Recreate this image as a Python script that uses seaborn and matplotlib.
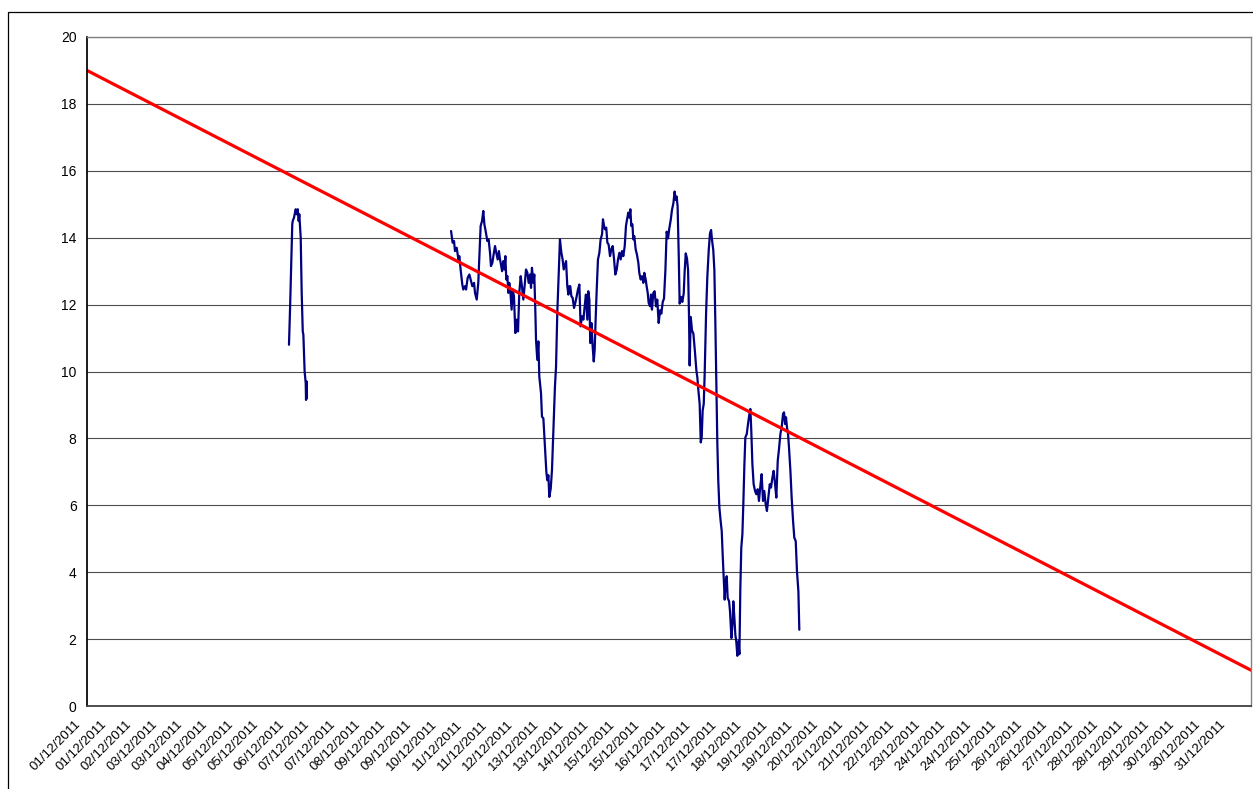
import numpy as np
import pandas as pd
import seaborn as sns
import matplotlib.pyplot as plt
from matplotlib.patches import Rectangle
from matplotlib.transforms import ScaledTranslation

# x values are hours since 01/12/2011 00:00
seg1_hours = [129.1, 129.8, 131.2, 131.5, 132.3, 133.4, 134.0, 134.7, 135.3, 135.7,
              136.6, 137.2, 137.9, 138.3, 139.1, 139.8, 140.0, 140.4, 140.6]
seg1_values = [10.8, 11.9, 14.4, 14.5, 14.6, 14.85, 14.7, 14.85, 14.5, 14.7,
               14.0, 12.4, 11.2, 11.1, 10.0, 9.65, 9.15, 9.7, 9.2]

seg2_hours = [
    232.7, 233.7, 234.6, 235.2, 236.3, 237.4, 238.0, 238.8, 239.9, 240.5,
    241.6, 242.3, 243.3, 244.4, 245.2, 246.3, 247.4, 248.0, 249.1, 250.1,
    250.8, 251.6, 252.5, 253.3, 254.0, 254.8, 255.9, 256.7, 257.6, 258.2,
    259.1, 259.9, 260.8, 261.6, 262.5, 263.3, 264.0, 264.6, 265.3, 266.1,
    266.8, 267.4, 268.0, 268.7, 269.3, 269.9, 270.6, 271.4, 272.1, 272.9,
    273.8, 274.6, 275.5, 276.3, 277.2, 278.0, 278.9, 279.8, 280.6, 281.5,
    282.3, 283.2, 283.8, 284.4, 285.3, 285.9, 286.6, 287.0, 287.8, 288.5,
    289.1, 290.2, 290.8, 291.7, 292.7, 293.6, 294.2, 294.9, 295.5, 296.4,
    297.2, 298.1, 299.1, 299.8, 300.6, 301.5, 302.3, 303.2, 304.0, 304.7,
    305.3, 306.2, 307.0, 307.7, 308.3, 308.9, 309.6, 310.4, 311.3, 312.1,
    313.0, 313.8, 314.7, 315.5, 316.4, 317.3, 318.1, 318.9, 319.8, 320.4,
    321.1, 321.7, 322.4, 323.2, 323.9, 324.5, 325.1, 325.8, 326.6, 327.5,
    328.3, 329.2, 329.8, 330.5, 331.1, 331.9, 332.6, 333.4, 334.3, 335.1,
    336.0, 336.9, 337.7, 338.6, 339.4, 340.3, 341.1, 342.0, 342.8, 343.7,
    344.5, 345.2, 346.0, 346.7, 347.3, 347.9, 348.6, 349.2, 349.8, 350.7,
    351.5, 352.4, 353.0, 353.9, 354.7, 355.6, 356.2, 357.1, 357.7, 358.4,
    359.0, 359.9, 360.5, 361.1, 362.0, 362.8, 363.7, 364.5, 365.4, 366.3,
    367.1, 368.0, 368.8, 369.7, 370.5, 371.4, 372.2, 373.1, 373.9, 374.8,
    375.6, 376.3, 376.9, 377.5, 378.2, 378.8, 379.7, 380.5, 381.4, 382.0,
    382.7, 383.5, 384.2, 384.8, 385.2, 385.9, 386.7, 387.6, 388.6, 389.5,
    390.1, 390.8, 391.6, 392.3, 392.9, 393.5, 394.2, 394.8, 395.7, 396.5,
    397.4, 398.2, 398.9, 399.5, 400.3, 401.0, 401.6, 402.3, 402.9, 403.5,
    404.2, 405.0, 405.7, 406.3, 407.0, 407.6, 408.2, 408.9, 409.5, 410.4,
    411.0, 411.9, 412.7, 413.1, 413.8, 414.4, 415.0, 415.7, 416.3, 417.0,
    417.6, 418.2, 418.9, 419.5, 420.2, 420.8, 421.7, 422.5, 423.4, 424.0,
    424.6, 425.3, 426.1, 427.0, 427.8, 428.7, 429.5, 430.4, 431.2, 432.1,
    432.9, 433.8, 434.6, 435.5, 436.4, 437.2, 438.1, 438.9, 439.8, 440.6,
    441.5, 442.3, 443.2, 444.0, 444.9, 445.5, 446.2, 446.8, 447.4, 448.1,
    448.7, 449.6, 450.4, 451.3, 452.1, 453.0, 453.8, 454.7, 455.3,
]
seg2_values = [
    14.2, 13.85, 13.9, 13.6, 13.7, 13.35, 13.45, 13.05, 12.6, 12.45,
    12.55, 12.45, 12.8, 12.9, 12.75, 12.55, 12.65, 12.35, 12.15, 12.65,
    13.45, 14.35, 14.5, 14.8, 14.4, 14.2, 13.9, 13.95, 13.55, 13.15,
    13.25, 13.5, 13.75, 13.55, 13.35, 13.6, 13.35, 13.2, 13.0, 13.3,
    13.05, 13.45, 12.75, 12.85, 12.35, 12.65, 12.4, 11.85, 12.45, 12.25,
    11.15, 11.55, 11.2, 12.35, 12.85, 12.55, 12.15, 12.6, 13.05, 12.95,
    12.65, 12.9, 12.5, 13.1, 12.65, 12.9, 11.75, 10.95, 10.35, 10.9,
    9.85, 9.35, 8.65, 8.6, 7.75, 7.0, 6.75, 6.9, 6.25, 6.5,
    7.05, 8.25, 9.55, 10.15, 11.75, 12.95, 13.95, 13.55, 13.35, 13.05,
    13.15, 13.3, 12.55, 12.3, 12.55, 12.55, 12.25, 12.2, 11.9, 12.05,
    12.25, 12.45, 12.6, 11.35, 11.65, 11.55, 11.95, 12.3, 11.55, 12.4,
    12.15, 10.85, 11.45, 10.75, 10.3, 10.65, 11.55, 12.45, 13.35, 13.55,
    13.95, 14.1, 14.55, 14.35, 14.25, 14.3, 13.85, 13.8, 13.45, 13.65,
    13.75, 13.35, 12.9, 13.05, 13.35, 13.55, 13.35, 13.6, 13.45, 13.75,
    14.35, 14.55, 14.75, 14.6, 14.85, 14.35, 14.4, 13.95, 14.05, 13.65,
    13.5, 13.25, 12.95, 12.75, 12.85, 12.65, 12.95, 12.75, 12.55, 12.35,
    12.05, 11.95, 12.3, 11.85, 12.35, 12.4, 11.95, 12.15, 11.45, 11.83,
    11.73, 12.08, 12.18, 13.03, 14.18, 13.98, 14.28, 14.53, 14.83, 15.03,
    15.38, 15.13, 15.23, 14.93, 13.53, 12.03, 12.23, 12.08, 12.33, 12.98,
    13.53, 13.38, 13.03, 11.63, 10.18, 11.63, 11.23, 11.13, 10.58, 10.03,
    9.83, 9.43, 9.03, 7.88, 8.03, 8.83, 9.03, 9.93, 11.73, 12.83,
    13.63, 14.13, 14.23, 13.93, 13.63, 13.03, 11.53, 9.53, 7.83, 6.73,
    5.93, 5.53, 5.23, 4.53, 3.83, 3.18, 3.73, 3.88, 3.23, 3.13,
    2.83, 2.03, 2.53, 3.13, 2.63, 2.13, 1.93, 1.5, 1.93, 1.55,
    3.53, 4.73, 5.13, 6.03, 7.23, 8.03, 8.13, 8.43, 8.73, 8.88,
    8.23, 7.23, 6.63, 6.43, 6.33, 6.48, 6.13, 6.58, 6.93, 6.13,
    6.43, 6.03, 5.83, 6.23, 6.63, 6.53, 6.83, 7.03, 6.63, 6.23,
    7.33, 7.68, 8.13, 8.33, 8.73, 8.78, 8.43, 8.63, 8.33, 8.13,
    7.73, 7.03, 6.23, 5.53, 5.03, 4.93, 4.03, 3.43, 2.28,
]

# trend line, start and end of the month
trend_hours = [0, 744]
trend_values = [19.0, 1.07]

# day shown under each category tick
label_days = [1, 1, 2, 3, 3, 4, 5, 5, 6, 7, 7, 8, 9, 9, 10, 11, 11, 12, 13, 13,
              14, 15, 15, 16, 17, 17, 18, 19, 19, 20, 21, 21, 22, 23, 24, 24,
              25, 26, 26, 27, 28, 28, 29, 30, 30, 31]
tick_labels = [f"{d:02d}/12/2011" for d in label_days]

series = pd.concat([
    pd.DataFrame({"hours": seg1_hours, "value": seg1_values, "segment": 1}),
    pd.DataFrame({"hours": seg2_hours, "value": seg2_values, "segment": 2}),
])
trend = pd.DataFrame({"hours": trend_hours, "value": trend_values})

sns.set_theme(style="white")
plt.rcParams["font.family"] = ["Liberation Sans", "DejaVu Sans"]

fig = plt.figure(figsize=(12.53, 7.89), dpi=100)
ax = fig.add_axes([87 / 1253, 1 - 706 / 789, 1164 / 1253, 669 / 789])

sns.lineplot(data=series, x="hours", y="value", units="segment", estimator=None,
             sort=False, color="#000080", lw=1.6, ax=ax)
sns.lineplot(data=trend, x="hours", y="value", color="#FF0000", lw=2.3, ax=ax)

ax.set_xlim(0, 744)
ax.set_ylim(0, 20)
ax.set_yticks(np.arange(0, 21, 2))
ax.set_xticks(np.arange(len(tick_labels)) * 16.26)
ax.set_xticklabels(tick_labels, rotation=45, ha="right", va="center",
                   rotation_mode="anchor")
ax.set_xlabel("")
ax.set_ylabel("")

ax.yaxis.grid(True, color="#4d4d4d", lw=0.8)
ax.xaxis.grid(False)
ax.tick_params(axis="y", length=4.5, width=0.8, direction="out", color="black",
               pad=3, labelsize=10, labelcolor="black")
ax.tick_params(axis="x", length=0, pad=12, labelsize=9.5, labelcolor="black")

# nudge the rotated date labels left, as in the original
shift = ScaledTranslation(-8 / 100, 0, fig.dpi_scale_trans)
for lbl in ax.get_xticklabels():
    lbl.set_transform(lbl.get_transform() + shift)

ax.spines["left"].set_color("black")
ax.spines["bottom"].set_color("#404040")
ax.spines["bottom"].set_linewidth(1.3)
for s in ["top", "right"]:
    ax.spines[s].set_color("#808080")
    ax.spines[s].set_linewidth(1.0)

# chart area border
fig.add_artist(Rectangle((8 / 1253, -0.05), 1.2, 1 - 12 / 789 + 0.05,
                         transform=fig.transFigure, fill=False,
                         edgecolor="black", lw=0.9))

fig.savefig("out.png", dpi=100)
